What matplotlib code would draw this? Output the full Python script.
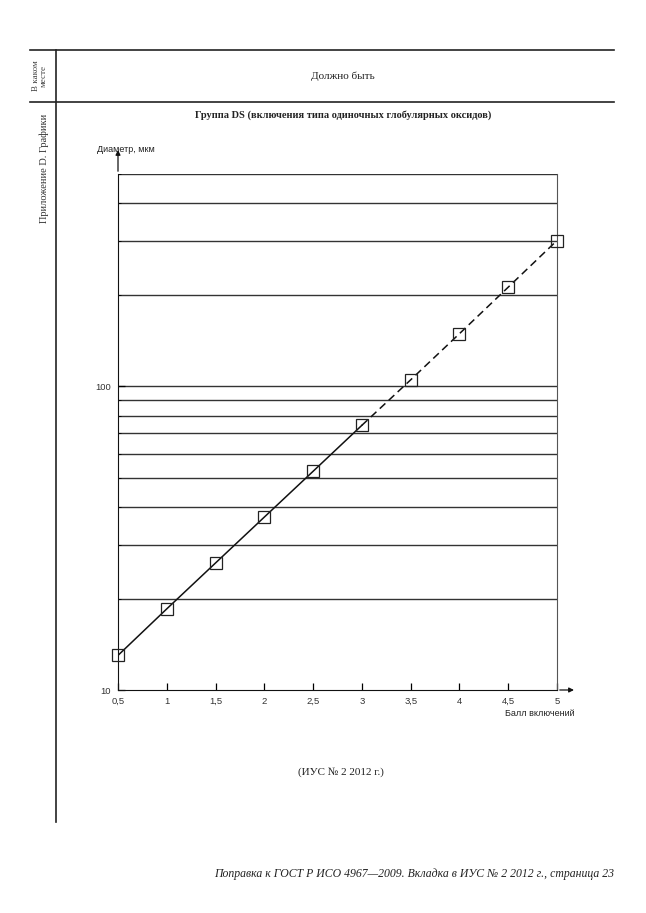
import matplotlib.pyplot as plt
from matplotlib.ticker import FixedLocator, NullFormatter, LogLocator

# Values
grade = [0.5, 1, 1.5, 2, 2.5, 3, 3.5, 4, 4.5, 5]
diameter = [13, 18.5, 26.2, 37.1, 52.5, 74.4, 105, 149, 212, 302]
grid_levels = [20, 30, 40, 50, 60, 70, 80, 90, 100, 200, 300, 400, 500]
x_ticks = [0.5, 1, 1.5, 2, 2.5, 3, 3.5, 4, 4.5, 5]
x_labels = ['0,5', '1', '1,5', '2', '2,5', '3', '3,5', '4', '4,5', '5']

W, H = 646, 913
fig = plt.figure(figsize=(W / 100, H / 100), dpi=100)
serif = 'Liberation Serif'
sans = 'Liberation Sans'

def fx(px):
    return px / W

def fy(py):
    return 1 - py / H

# Page frame
frame = fig.add_axes([0, 0, 1, 1])
frame.set_xlim(0, W)
frame.set_ylim(H, 0)
frame.axis('off')
frame.plot([30, 614], [50, 50], color='#222', lw=1.2)
frame.plot([30, 614], [102, 102], color='#222', lw=1.2)
frame.plot([56, 56], [50, 822], color='#222', lw=1.2)

frame.text(40, 76, 'В каком\nместе', rotation=90, ha='center', va='center',
           fontsize=6.5, family=serif, color='#444', linespacing=1.0)
frame.text(44, 168, 'Приложение D. Графики', rotation=90, ha='center', va='center',
           fontsize=7.5, family=serif, color='#333')
frame.text(343, 76, 'Должно быть', ha='center', va='center',
           fontsize=8, family=serif, color='#222')
frame.text(343, 115, 'Группа DS (включения типа одиночных глобулярных оксидов)',
           ha='center', va='center', fontsize=7.5, family=serif,
           fontweight='bold', color='#222')
frame.text(341, 772, '(ИУС № 2 2012 г.)', ha='center', va='center',
           fontsize=8, family=serif, color='#222')
frame.text(614, 874, 'Поправка к ГОСТ Р ИСО 4967—2009. Вкладка в ИУС № 2 2012 г., страница 23',
           ha='right', va='center', fontsize=8.5, family=serif,
           style='italic', color='#222')
frame.text(97, 150, 'Диаметр, мкм', ha='left', va='center',
           fontsize=6.5, family=sans, color='#222')
frame.text(575, 713, 'Балл включений', ha='right', va='center',
           fontsize=6.5, family=sans, color='#222')

# Chart
ax = fig.add_axes([fx(118), fy(690), fx(557) - fx(118), fy(174) - fy(690)])
ax.set_yscale('log')
ax.set_xlim(0.5, 5)
ax.set_ylim(10, 500)

for lv in grid_levels:
    ax.axhline(lv, color='#333', lw=1.0, zorder=1)

ax.plot(grade[:6], diameter[:6], color='#111', lw=1.1, zorder=2)
ax.plot(grade[5:], diameter[5:], color='#111', lw=1.1, ls=(0, (5, 3)), zorder=2)
ax.plot(grade, diameter, ls='none', marker='s', ms=8.5, mfc='none',
        mec='#222', mew=0.9, zorder=3, clip_on=False)

ax.spines['top'].set_visible(False)
ax.spines['right'].set_color('#555')
ax.spines['left'].set_color('#111')
ax.spines['bottom'].set_color('#111')

ax.set_xticks(x_ticks)
ax.set_xticklabels(x_labels, family=sans, fontsize=6.8, color='#333')
ax.yaxis.set_major_locator(FixedLocator([10, 100]))
ax.set_yticklabels(['10', '100'], family=sans, fontsize=6.8, color='#333')
ax.yaxis.set_minor_locator(LogLocator(subs=range(2, 10)))
ax.yaxis.set_minor_formatter(NullFormatter())
ax.tick_params(axis='both', which='major', direction='in', length=5, width=0.9)
ax.tick_params(axis='x', which='major', pad=5)
ax.tick_params(axis='y', which='major', pad=5)
ax.tick_params(axis='y', which='minor', direction='in', length=2, width=0.6)

# Axis arrows
ax.annotate('', xy=(1.045, 0), xycoords='axes fraction', xytext=(1.0, 0),
            arrowprops=dict(arrowstyle='-|>', color='#111', lw=0.9,
                            mutation_scale=7), annotation_clip=False)
ax.annotate('', xy=(0, 1.052), xycoords='axes fraction', xytext=(0, 1.0),
            arrowprops=dict(arrowstyle='-|>', color='#111', lw=0.9,
                            mutation_scale=7), annotation_clip=False)

fig.savefig('out.png', dpi=100, facecolor='white')
